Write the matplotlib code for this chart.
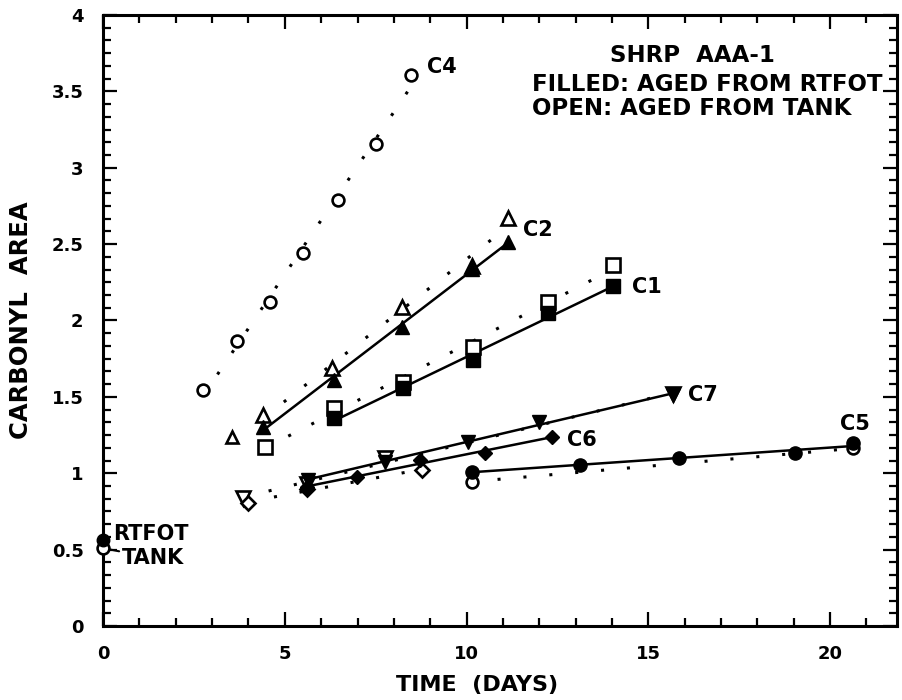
import numpy as np
import matplotlib.pyplot as plt
from matplotlib.ticker import MultipleLocator, FixedLocator

plt.rcParams['font.family'] = ['DejaVu Sans']
plt.rcParams['font.weight'] = 'bold'

# carbonyl area at day 0
rtfot_start = 0.56
tank_start = 0.51

# C4
c4_open_days = [2.75, 3.69, 4.59, 5.50, 6.46, 7.51, 8.47]
c4_open_area = [1.545, 1.866, 2.12, 2.44, 2.79, 3.155, 3.607]

# C2
c2_filled_days = [4.41, 6.34, 8.22, 10.14, 11.15]
c2_filled_area = [1.305, 1.61, 1.96, 2.34, 2.516]
c2_open_days = [4.41, 6.29, 8.22, 10.14, 11.15]
c2_open_area = [1.381, 1.687, 2.09, 2.36, 2.67]
c2_early_days = [3.54]
c2_early_area = [1.239]

# C1
c1_filled_days = [6.34, 8.26, 10.19, 12.25, 14.04]
c1_filled_area = [1.36, 1.558, 1.741, 2.047, 2.226]
c1_open_days = [4.46, 6.34, 8.26, 10.19, 12.25, 14.04]
c1_open_area = [1.174, 1.425, 1.60, 1.829, 2.123, 2.363]

# C7
c7_filled_days = [5.65, 7.76, 10.05, 11.98, 15.69]
c7_filled_area = [0.956, 1.075, 1.207, 1.337, 1.512]
c7_open_days = [3.86, 5.62, 7.76, 15.69]
c7_open_area = [0.836, 0.93, 1.10, 1.52]

# C6
c6_filled_days = [5.6, 6.98, 8.72, 10.51, 12.34]
c6_filled_area = [0.908, 0.977, 1.087, 1.13, 1.239]
c6_open_days = [4.0, 5.6, 8.77]
c6_open_area = [0.803, 0.90, 1.021]

# C5
c5_filled_days = [10.14, 13.12, 15.83, 19.04, 20.64]
c5_filled_area = [1.01, 1.054, 1.102, 1.131, 1.196]
c5_open_days = [10.14, 20.64]
c5_open_area = [0.945, 1.163]

curve_labels = ['C4', 'C2', 'C1', 'C7', 'C6', 'C5']
label_pos = [(8.91, 3.66), (11.55, 2.59), (14.55, 2.22),
             (16.09, 1.51), (12.76, 1.22), (20.28, 1.32)]

DOTTED = (0, (1, 7.5))


def fit_line(days, area):
    k, b = np.polyfit(days, area, 1)
    x = np.array([min(days), max(days)])
    return x, k * x + b


def filled(ax, days, area, marker, ms, line=True):
    if line:
        x, y = fit_line(days, area)
        ax.plot(x, y, '-', color='black', lw=1.8, zorder=2)
    ax.plot(days, area, ls='none', marker=marker, ms=ms, color='black',
            mec='black', zorder=4)


def opened(ax, days, area, marker, ms, line=True):
    if line:
        x, y = fit_line(days, area)
        ax.plot(x, y, ls=DOTTED, color='black', lw=2.2, zorder=2)
    ax.plot(days, area, ls='none', marker=marker, ms=ms, mfc='white',
            mec='black', mew=1.9, zorder=3)


fig = plt.figure(figsize=(9.02, 7.0), dpi=100)
ax = fig.add_axes([0.1142, 0.1057, 0.8803, 0.8729])

opened(ax, c4_open_days, c4_open_area, 'o', 8.5)

opened(ax, c2_open_days, c2_open_area, '^', 10)
opened(ax, c2_early_days, c2_early_area, '^', 9, line=False)
filled(ax, c2_filled_days, c2_filled_area, '^', 10)

opened(ax, c1_open_days, c1_open_area, 's', 9.5)
filled(ax, c1_filled_days, c1_filled_area, 's', 9.5)

opened(ax, c7_open_days, c7_open_area, 'v', 10)
filled(ax, c7_filled_days, c7_filled_area, 'v', 10)

opened(ax, c6_open_days, c6_open_area, 'D', 7.5)
filled(ax, c6_filled_days, c6_filled_area, 'D', 7.5)

opened(ax, c5_open_days, c5_open_area, 'o', 8.5)
filled(ax, c5_filled_days, c5_filled_area, 'o', 9.5)

# starting material at day 0
ax.plot([0], [tank_start], ls='none', marker='o', ms=8.5, mfc='white',
        mec='black', mew=1.9, zorder=5, clip_on=False)
ax.plot([0], [rtfot_start], ls='none', marker='o', ms=9, color='black',
        zorder=6, clip_on=False)
ax.text(0.28, 0.60, 'RTFOT', fontsize=15, fontweight='bold', va='center')
ax.annotate('TANK', xy=(0, tank_start), xytext=(0.52, 0.445),
            fontsize=15, fontweight='bold', va='center',
            arrowprops=dict(arrowstyle='-', lw=1.5, color='black',
                            shrinkA=0, shrinkB=4))

for name, (lx, ly) in zip(curve_labels, label_pos):
    ax.text(lx, ly, name, fontsize=15, fontweight='bold', va='center')

ax.text(13.95, 3.738, 'SHRP  AAA-1', fontsize=16.5, fontweight='bold', va='center')
ax.text(11.80, 3.542, 'FILLED: AGED FROM RTFOT', fontsize=16.5,
        fontweight='bold', va='center')
ax.text(11.80, 3.391, 'OPEN: AGED FROM TANK', fontsize=16.5,
        fontweight='bold', va='center')

ax.set_xlim(0, 21.84)
ax.set_ylim(0, 4)
ax.xaxis.set_major_locator(FixedLocator([0, 5, 10, 15, 20]))
ax.xaxis.set_minor_locator(MultipleLocator(1))
ax.yaxis.set_major_locator(MultipleLocator(0.5))
ax.yaxis.set_minor_locator(MultipleLocator(0.5 / 6))
ax.yaxis.set_major_formatter(plt.FuncFormatter(lambda v, p: f'{v:g}'))

ax.tick_params(which='both', direction='in', top=True, right=True,
               width=1.6, labelsize=13)
ax.tick_params(which='major', length=10)
ax.tick_params(which='minor', length=5.5)
ax.tick_params(axis='x', pad=14)
ax.tick_params(axis='y', pad=14)
for lab in ax.get_xticklabels() + ax.get_yticklabels():
    lab.set_fontweight('bold')
for s in ax.spines.values():
    s.set_linewidth(2.2)

ax.set_xlabel('TIME  (DAYS)', fontsize=16, fontweight='bold')
ax.xaxis.set_label_coords(0.4717, -0.080)
ax.set_ylabel('CARBONYL  AREA', fontsize=17.5, fontweight='bold')
ax.yaxis.set_label_coords(-0.088, 0.5)

fig.savefig('out.png', dpi=100)
